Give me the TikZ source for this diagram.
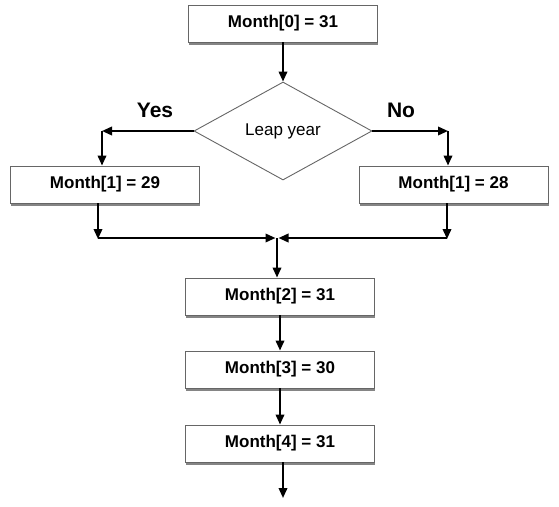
\documentclass[tikz,border=0pt]{standalone}
\usepackage{fontspec}
\setmainfont{Liberation Sans}
\usetikzlibrary{shapes.geometric,shadows,arrows.meta}
\begin{document}
\begin{tikzpicture}[x=1pt,y=-1pt,
  box/.style={draw=black!60,line width=0.9pt,fill=white,minimum width=189pt,minimum height=37pt,inner sep=0pt,
    font=\fontsize{17}{20}\selectfont\bfseries,
    drop shadow={shadow xshift=0.5pt,shadow yshift=-3pt,opacity=0.6,fill=black!80}},
  dia/.style={draw=black!60,line width=0.9pt,fill=white,diamond,aspect=1.82,minimum width=178pt,minimum height=98pt,inner sep=0pt,
    font=\fontsize{17}{20}\selectfont},
  lbl/.style={font=\fontsize{21}{25}\selectfont\bfseries},
  conn/.style={line width=2pt,-{Triangle[length=10pt,width=8.5pt]}}]
\useasboundingbox (0,0) rectangle (559,506);
\node[box] (m0) at (283,23.5) {Month[0] = 31};
\node[dia] (leap) at (283,131) {Leap year};
\node[box] (m1a) at (105,184.5) {Month[1] = 29};
\node[box] (m1b) at (453.5,184.5) {Month[1] = 28};
\node[box] (m2) at (280,296.5) {Month[2] = 31};
\node[box] (m3) at (280,369.5) {Month[3] = 30};
\node[box] (m4) at (280,443.5) {Month[4] = 31};
\node[lbl] (yes) at (155,110) {Yes};
\node[lbl] (no) at (401,110) {No};
\coordinate (yl) at (102,131);
\coordinate (nr) at (448,131);
\coordinate (jl) at (98,238);
\coordinate (jr) at (447,238);
\coordinate (jm) at (277,238);
\coordinate (jml) at (275.5,238);
\coordinate (jmr) at (278.5,238);
\coordinate (end) at (283,498);
\draw[conn] (m0.south) -- (leap.north);
\draw[conn] (leap.west) -- (yl);
\draw[conn] (yl) -- (yl |- m1a.north);
\draw[conn] (leap.east) -- (nr);
\draw[conn] (nr) -- (nr |- m1b.north);
\draw[conn] (jl |- m1a.south) -- ([yshift=-1pt]jl);
\draw[conn] (jr |- m1b.south) -- ([yshift=-1pt]jr);
\draw[conn] (jl) -- (jml);
\draw[conn] (jr) -- (jmr);
\draw[conn] (jm) -- (jm |- m2.north);
\draw[conn] (m2.south) -- (m3.north);
\draw[conn] (m3.south) -- (m4.north);
\draw[conn] (end |- m4.south) -- (end);
\end{tikzpicture}
\end{document}
